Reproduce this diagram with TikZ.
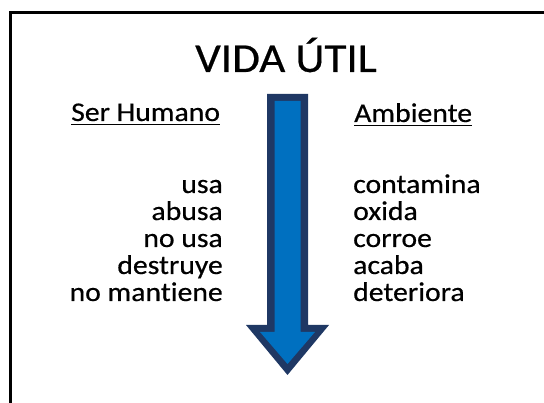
\documentclass[tikz,border=0pt]{standalone}
\usepackage{fontspec}
\setmainfont{Carlito}[Ligatures=NoCommon,FakeBold=0.5]
\definecolor{navy}{RGB}{31,56,100}
\definecolor{arrowblue}{RGB}{0,112,192}
\begin{document}
\begin{tikzpicture}[x=1pt,y=1pt,
  word/.style={inner sep=0pt,font=\fontsize{27}{31}\selectfont,xscale=1.1,transform shape},
  lword/.style={word,anchor=base east},
  rword/.style={word,anchor=base west},
  uline/.style={line width=1.7pt}]
\useasboundingbox (0,0) rectangle (544,403);
\clip (0,0) rectangle (544,403);
\fill[white] (0,0) rectangle (544,403);
\draw[line width=3pt] (10,-20) -- (10,390) -- (570,390);
% arrow
\fill[navy] (267,309) -- (308,309) -- (308,78) -- (329,78) -- (287.5,28) -- (246,78) -- (267,78) -- cycle;
\fill[arrowblue] (274.5,302) -- (300.5,302) -- (300.5,71) -- (315,71) -- (287.5,39) -- (260,71) -- (274.5,71) -- cycle;
% title
\node[inner sep=0pt,anchor=base,font=\fontsize{41}{48}\selectfont,xscale=1.1,transform shape] (title) at (286,331) {VIDA ÚTIL};
\node[rword] (sh) at (71,282) {Ser Humano};
\node[rword] (amb) at (354,281) {Ambiente};
\draw[uline] ([yshift=-3.5pt]sh.base west) -- ([yshift=-3.5pt]sh.base east);
\draw[uline] ([yshift=-3.5pt]amb.base west) -- ([yshift=-3.5pt]amb.base east);
\node[lword] (l1) at (223,210) {usa};
\node[lword] (l2) at (223,183) {abusa};
\node[lword] (l3) at (223,156) {no usa};
\node[lword] (l4) at (223,129) {destruye};
\node[lword] (l5) at (223,102) {no mantiene};
\node[rword] (r1) at (353,210) {contamina};
\node[rword] (r2) at (353,183) {oxida};
\node[rword] (r3) at (353,156) {corroe};
\node[rword] (r4) at (353,129) {acaba};
\node[rword] (r5) at (353,102) {deteriora};
\end{tikzpicture}
\end{document}
